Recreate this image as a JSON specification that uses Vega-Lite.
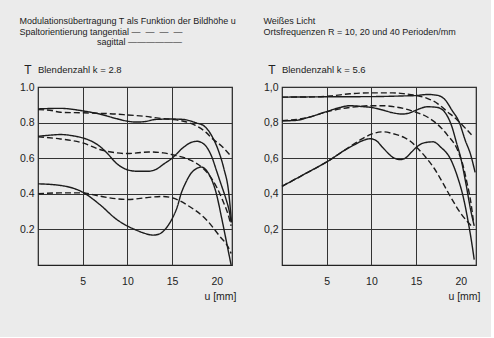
{
  "$schema": "https://vega.github.io/schema/vega-lite/v6.json",
  "background": "#ebebeb",
  "padding": {"left": 18, "top": 16, "right": 10, "bottom": 34},
  "datasets": {
    "mtf": [
      {"k": "2.8", "R": 10, "o": "sagittal", "u": 0, "T": 0.877},
      {"k": "2.8", "R": 10, "o": "sagittal", "u": 2.5, "T": 0.88},
      {"k": "2.8", "R": 10, "o": "sagittal", "u": 5, "T": 0.866},
      {"k": "2.8", "R": 10, "o": "sagittal", "u": 6.9, "T": 0.848},
      {"k": "2.8", "R": 10, "o": "sagittal", "u": 8.8, "T": 0.822},
      {"k": "2.8", "R": 10, "o": "sagittal", "u": 10, "T": 0.808},
      {"k": "2.8", "R": 10, "o": "sagittal", "u": 11, "T": 0.803},
      {"k": "2.8", "R": 10, "o": "sagittal", "u": 12, "T": 0.806},
      {"k": "2.8", "R": 10, "o": "sagittal", "u": 13.2, "T": 0.818},
      {"k": "2.8", "R": 10, "o": "sagittal", "u": 15, "T": 0.82},
      {"k": "2.8", "R": 10, "o": "sagittal", "u": 16.2, "T": 0.818},
      {"k": "2.8", "R": 10, "o": "sagittal", "u": 17.6, "T": 0.8},
      {"k": "2.8", "R": 10, "o": "sagittal", "u": 18.6, "T": 0.78},
      {"k": "2.8", "R": 10, "o": "sagittal", "u": 19.5, "T": 0.72},
      {"k": "2.8", "R": 10, "o": "sagittal", "u": 20.2, "T": 0.64},
      {"k": "2.8", "R": 10, "o": "sagittal", "u": 20.8, "T": 0.54},
      {"k": "2.8", "R": 10, "o": "sagittal", "u": 21.3, "T": 0.42},
      {"k": "2.8", "R": 10, "o": "sagittal", "u": 21.65, "T": 0.24},

      {"k": "2.8", "R": 10, "o": "tangential", "u": 0, "T": 0.873},
      {"k": "2.8", "R": 10, "o": "tangential", "u": 1.5, "T": 0.868},
      {"k": "2.8", "R": 10, "o": "tangential", "u": 2.5, "T": 0.858},
      {"k": "2.8", "R": 10, "o": "tangential", "u": 5, "T": 0.855},
      {"k": "2.8", "R": 10, "o": "tangential", "u": 7, "T": 0.852},
      {"k": "2.8", "R": 10, "o": "tangential", "u": 8.8, "T": 0.848},
      {"k": "2.8", "R": 10, "o": "tangential", "u": 10, "T": 0.843},
      {"k": "2.8", "R": 10, "o": "tangential", "u": 12, "T": 0.835},
      {"k": "2.8", "R": 10, "o": "tangential", "u": 13.5, "T": 0.825},
      {"k": "2.8", "R": 10, "o": "tangential", "u": 15, "T": 0.818},
      {"k": "2.8", "R": 10, "o": "tangential", "u": 16.5, "T": 0.805},
      {"k": "2.8", "R": 10, "o": "tangential", "u": 17.6, "T": 0.785},
      {"k": "2.8", "R": 10, "o": "tangential", "u": 18.8, "T": 0.745},
      {"k": "2.8", "R": 10, "o": "tangential", "u": 19.5, "T": 0.71},
      {"k": "2.8", "R": 10, "o": "tangential", "u": 20.5, "T": 0.67},
      {"k": "2.8", "R": 10, "o": "tangential", "u": 21.6, "T": 0.61},

      {"k": "2.8", "R": 20, "o": "sagittal", "u": 0, "T": 0.723},
      {"k": "2.8", "R": 20, "o": "sagittal", "u": 1.5, "T": 0.73},
      {"k": "2.8", "R": 20, "o": "sagittal", "u": 2.5, "T": 0.733},
      {"k": "2.8", "R": 20, "o": "sagittal", "u": 4, "T": 0.725},
      {"k": "2.8", "R": 20, "o": "sagittal", "u": 5, "T": 0.714},
      {"k": "2.8", "R": 20, "o": "sagittal", "u": 6.2, "T": 0.69},
      {"k": "2.8", "R": 20, "o": "sagittal", "u": 6.9, "T": 0.667},
      {"k": "2.8", "R": 20, "o": "sagittal", "u": 7.7, "T": 0.63},
      {"k": "2.8", "R": 20, "o": "sagittal", "u": 8.8, "T": 0.57},
      {"k": "2.8", "R": 20, "o": "sagittal", "u": 10, "T": 0.535},
      {"k": "2.8", "R": 20, "o": "sagittal", "u": 11, "T": 0.527},
      {"k": "2.8", "R": 20, "o": "sagittal", "u": 12.4, "T": 0.527},
      {"k": "2.8", "R": 20, "o": "sagittal", "u": 13.3, "T": 0.54},
      {"k": "2.8", "R": 20, "o": "sagittal", "u": 14, "T": 0.565},
      {"k": "2.8", "R": 20, "o": "sagittal", "u": 15, "T": 0.6},
      {"k": "2.8", "R": 20, "o": "sagittal", "u": 16.2, "T": 0.658},
      {"k": "2.8", "R": 20, "o": "sagittal", "u": 17.2, "T": 0.69},
      {"k": "2.8", "R": 20, "o": "sagittal", "u": 17.8, "T": 0.695},
      {"k": "2.8", "R": 20, "o": "sagittal", "u": 18.4, "T": 0.685},
      {"k": "2.8", "R": 20, "o": "sagittal", "u": 18.8, "T": 0.667},
      {"k": "2.8", "R": 20, "o": "sagittal", "u": 19.5, "T": 0.6},
      {"k": "2.8", "R": 20, "o": "sagittal", "u": 19.9, "T": 0.54},
      {"k": "2.8", "R": 20, "o": "sagittal", "u": 20.5, "T": 0.45},
      {"k": "2.8", "R": 20, "o": "sagittal", "u": 21, "T": 0.375},
      {"k": "2.8", "R": 20, "o": "sagittal", "u": 21.4, "T": 0.3},
      {"k": "2.8", "R": 20, "o": "sagittal", "u": 21.6, "T": 0.24},

      {"k": "2.8", "R": 20, "o": "tangential", "u": 0, "T": 0.72},
      {"k": "2.8", "R": 20, "o": "tangential", "u": 2.5, "T": 0.708},
      {"k": "2.8", "R": 20, "o": "tangential", "u": 5, "T": 0.686},
      {"k": "2.8", "R": 20, "o": "tangential", "u": 6.9, "T": 0.649},
      {"k": "2.8", "R": 20, "o": "tangential", "u": 8.8, "T": 0.63},
      {"k": "2.8", "R": 20, "o": "tangential", "u": 10, "T": 0.626},
      {"k": "2.8", "R": 20, "o": "tangential", "u": 12.4, "T": 0.635},
      {"k": "2.8", "R": 20, "o": "tangential", "u": 14, "T": 0.63},
      {"k": "2.8", "R": 20, "o": "tangential", "u": 15, "T": 0.62},
      {"k": "2.8", "R": 20, "o": "tangential", "u": 16.9, "T": 0.592},
      {"k": "2.8", "R": 20, "o": "tangential", "u": 18.4, "T": 0.546},
      {"k": "2.8", "R": 20, "o": "tangential", "u": 19.5, "T": 0.48},
      {"k": "2.8", "R": 20, "o": "tangential", "u": 20.6, "T": 0.37},
      {"k": "2.8", "R": 20, "o": "tangential", "u": 21.4, "T": 0.26},
      {"k": "2.8", "R": 20, "o": "tangential", "u": 21.6, "T": 0.22},

      {"k": "2.8", "R": 40, "o": "sagittal", "u": 0, "T": 0.456},
      {"k": "2.8", "R": 40, "o": "sagittal", "u": 2.5, "T": 0.447},
      {"k": "2.8", "R": 40, "o": "sagittal", "u": 5, "T": 0.409},
      {"k": "2.8", "R": 40, "o": "sagittal", "u": 6.9, "T": 0.34},
      {"k": "2.8", "R": 40, "o": "sagittal", "u": 8.8, "T": 0.256},
      {"k": "2.8", "R": 40, "o": "sagittal", "u": 10, "T": 0.219},
      {"k": "2.8", "R": 40, "o": "sagittal", "u": 10.9, "T": 0.198},
      {"k": "2.8", "R": 40, "o": "sagittal", "u": 11.8, "T": 0.18},
      {"k": "2.8", "R": 40, "o": "sagittal", "u": 12.9, "T": 0.168},
      {"k": "2.8", "R": 40, "o": "sagittal", "u": 13.6, "T": 0.175},
      {"k": "2.8", "R": 40, "o": "sagittal", "u": 14.3, "T": 0.205},
      {"k": "2.8", "R": 40, "o": "sagittal", "u": 15, "T": 0.26},
      {"k": "2.8", "R": 40, "o": "sagittal", "u": 15.6, "T": 0.33},
      {"k": "2.8", "R": 40, "o": "sagittal", "u": 16, "T": 0.4},
      {"k": "2.8", "R": 40, "o": "sagittal", "u": 16.5, "T": 0.46},
      {"k": "2.8", "R": 40, "o": "sagittal", "u": 17.2, "T": 0.52},
      {"k": "2.8", "R": 40, "o": "sagittal", "u": 18.3, "T": 0.55},
      {"k": "2.8", "R": 40, "o": "sagittal", "u": 19, "T": 0.52},
      {"k": "2.8", "R": 40, "o": "sagittal", "u": 19.9, "T": 0.41},
      {"k": "2.8", "R": 40, "o": "sagittal", "u": 20.6, "T": 0.25},
      {"k": "2.8", "R": 40, "o": "sagittal", "u": 21.2, "T": 0.1},
      {"k": "2.8", "R": 40, "o": "sagittal", "u": 21.6, "T": 0.0},

      {"k": "2.8", "R": 40, "o": "tangential", "u": 0, "T": 0.4},
      {"k": "2.8", "R": 40, "o": "tangential", "u": 2.5, "T": 0.405},
      {"k": "2.8", "R": 40, "o": "tangential", "u": 5, "T": 0.405},
      {"k": "2.8", "R": 40, "o": "tangential", "u": 6.9, "T": 0.387},
      {"k": "2.8", "R": 40, "o": "tangential", "u": 8.8, "T": 0.372},
      {"k": "2.8", "R": 40, "o": "tangential", "u": 10, "T": 0.368},
      {"k": "2.8", "R": 40, "o": "tangential", "u": 12.4, "T": 0.38},
      {"k": "2.8", "R": 40, "o": "tangential", "u": 14, "T": 0.385},
      {"k": "2.8", "R": 40, "o": "tangential", "u": 15, "T": 0.378},
      {"k": "2.8", "R": 40, "o": "tangential", "u": 16.9, "T": 0.33},
      {"k": "2.8", "R": 40, "o": "tangential", "u": 18.8, "T": 0.256},
      {"k": "2.8", "R": 40, "o": "tangential", "u": 20.3, "T": 0.163},
      {"k": "2.8", "R": 40, "o": "tangential", "u": 21.4, "T": 0.088},
      {"k": "2.8", "R": 40, "o": "tangential", "u": 21.6, "T": 0.065},

      {"k": "5.6", "R": 10, "o": "sagittal", "u": 0, "T": 0.943},
      {"k": "5.6", "R": 10, "o": "sagittal", "u": 5, "T": 0.945},
      {"k": "5.6", "R": 10, "o": "sagittal", "u": 10, "T": 0.946},
      {"k": "5.6", "R": 10, "o": "sagittal", "u": 13.7, "T": 0.95},
      {"k": "5.6", "R": 10, "o": "sagittal", "u": 15, "T": 0.952},
      {"k": "5.6", "R": 10, "o": "sagittal", "u": 16.3, "T": 0.958},
      {"k": "5.6", "R": 10, "o": "sagittal", "u": 17.4, "T": 0.953},
      {"k": "5.6", "R": 10, "o": "sagittal", "u": 18.3, "T": 0.925},
      {"k": "5.6", "R": 10, "o": "sagittal", "u": 19, "T": 0.87},
      {"k": "5.6", "R": 10, "o": "sagittal", "u": 19.8, "T": 0.805},
      {"k": "5.6", "R": 10, "o": "sagittal", "u": 20.5, "T": 0.7},
      {"k": "5.6", "R": 10, "o": "sagittal", "u": 21.1, "T": 0.62},
      {"k": "5.6", "R": 10, "o": "sagittal", "u": 21.6, "T": 0.52},

      {"k": "5.6", "R": 10, "o": "tangential", "u": 0, "T": 0.943},
      {"k": "5.6", "R": 10, "o": "tangential", "u": 4, "T": 0.945},
      {"k": "5.6", "R": 10, "o": "tangential", "u": 5.5, "T": 0.95},
      {"k": "5.6", "R": 10, "o": "tangential", "u": 7.6, "T": 0.962},
      {"k": "5.6", "R": 10, "o": "tangential", "u": 10, "T": 0.967},
      {"k": "5.6", "R": 10, "o": "tangential", "u": 12.4, "T": 0.967},
      {"k": "5.6", "R": 10, "o": "tangential", "u": 13.7, "T": 0.962},
      {"k": "5.6", "R": 10, "o": "tangential", "u": 15, "T": 0.953},
      {"k": "5.6", "R": 10, "o": "tangential", "u": 16.3, "T": 0.935},
      {"k": "5.6", "R": 10, "o": "tangential", "u": 17.4, "T": 0.907},
      {"k": "5.6", "R": 10, "o": "tangential", "u": 18.5, "T": 0.861},
      {"k": "5.6", "R": 10, "o": "tangential", "u": 19.6, "T": 0.815},
      {"k": "5.6", "R": 10, "o": "tangential", "u": 20.5, "T": 0.769},
      {"k": "5.6", "R": 10, "o": "tangential", "u": 21.2, "T": 0.732},

      {"k": "5.6", "R": 20, "o": "sagittal", "u": 0, "T": 0.81},
      {"k": "5.6", "R": 20, "o": "sagittal", "u": 1.5, "T": 0.812},
      {"k": "5.6", "R": 20, "o": "sagittal", "u": 3, "T": 0.83},
      {"k": "5.6", "R": 20, "o": "sagittal", "u": 5, "T": 0.862},
      {"k": "5.6", "R": 20, "o": "sagittal", "u": 6.5, "T": 0.885},
      {"k": "5.6", "R": 20, "o": "sagittal", "u": 7.6, "T": 0.895},
      {"k": "5.6", "R": 20, "o": "sagittal", "u": 9, "T": 0.89},
      {"k": "5.6", "R": 20, "o": "sagittal", "u": 10, "T": 0.885},
      {"k": "5.6", "R": 20, "o": "sagittal", "u": 11.3, "T": 0.87},
      {"k": "5.6", "R": 20, "o": "sagittal", "u": 12.4, "T": 0.855},
      {"k": "5.6", "R": 20, "o": "sagittal", "u": 13.5, "T": 0.848},
      {"k": "5.6", "R": 20, "o": "sagittal", "u": 14.3, "T": 0.855},
      {"k": "5.6", "R": 20, "o": "sagittal", "u": 15, "T": 0.87},
      {"k": "5.6", "R": 20, "o": "sagittal", "u": 16.3, "T": 0.889},
      {"k": "5.6", "R": 20, "o": "sagittal", "u": 17.4, "T": 0.885},
      {"k": "5.6", "R": 20, "o": "sagittal", "u": 18.3, "T": 0.852},
      {"k": "5.6", "R": 20, "o": "sagittal", "u": 19, "T": 0.778},
      {"k": "5.6", "R": 20, "o": "sagittal", "u": 19.5, "T": 0.69},
      {"k": "5.6", "R": 20, "o": "sagittal", "u": 20, "T": 0.6},
      {"k": "5.6", "R": 20, "o": "sagittal", "u": 20.6, "T": 0.45},
      {"k": "5.6", "R": 20, "o": "sagittal", "u": 21.1, "T": 0.31},
      {"k": "5.6", "R": 20, "o": "sagittal", "u": 21.5, "T": 0.22},

      {"k": "5.6", "R": 20, "o": "tangential", "u": 0, "T": 0.81},
      {"k": "5.6", "R": 20, "o": "tangential", "u": 3, "T": 0.83},
      {"k": "5.6", "R": 20, "o": "tangential", "u": 5, "T": 0.86},
      {"k": "5.6", "R": 20, "o": "tangential", "u": 6.5, "T": 0.877},
      {"k": "5.6", "R": 20, "o": "tangential", "u": 7.6, "T": 0.885},
      {"k": "5.6", "R": 20, "o": "tangential", "u": 10, "T": 0.895},
      {"k": "5.6", "R": 20, "o": "tangential", "u": 11.3, "T": 0.895},
      {"k": "5.6", "R": 20, "o": "tangential", "u": 12.4, "T": 0.89},
      {"k": "5.6", "R": 20, "o": "tangential", "u": 13.7, "T": 0.878},
      {"k": "5.6", "R": 20, "o": "tangential", "u": 15, "T": 0.858},
      {"k": "5.6", "R": 20, "o": "tangential", "u": 16.3, "T": 0.83},
      {"k": "5.6", "R": 20, "o": "tangential", "u": 17.4, "T": 0.79},
      {"k": "5.6", "R": 20, "o": "tangential", "u": 18.5, "T": 0.73},
      {"k": "5.6", "R": 20, "o": "tangential", "u": 19.6, "T": 0.65},
      {"k": "5.6", "R": 20, "o": "tangential", "u": 20.3, "T": 0.55},
      {"k": "5.6", "R": 20, "o": "tangential", "u": 20.7, "T": 0.46},
      {"k": "5.6", "R": 20, "o": "tangential", "u": 21.1, "T": 0.36},
      {"k": "5.6", "R": 20, "o": "tangential", "u": 21.4, "T": 0.25},

      {"k": "5.6", "R": 40, "o": "sagittal", "u": 0, "T": 0.442},
      {"k": "5.6", "R": 40, "o": "sagittal", "u": 2.5, "T": 0.51},
      {"k": "5.6", "R": 40, "o": "sagittal", "u": 5, "T": 0.579},
      {"k": "5.6", "R": 40, "o": "sagittal", "u": 7.6, "T": 0.662},
      {"k": "5.6", "R": 40, "o": "sagittal", "u": 9.9, "T": 0.709},
      {"k": "5.6", "R": 40, "o": "sagittal", "u": 10.5, "T": 0.7},
      {"k": "5.6", "R": 40, "o": "sagittal", "u": 11.3, "T": 0.658},
      {"k": "5.6", "R": 40, "o": "sagittal", "u": 12.4, "T": 0.605},
      {"k": "5.6", "R": 40, "o": "sagittal", "u": 13.2, "T": 0.592},
      {"k": "5.6", "R": 40, "o": "sagittal", "u": 13.7, "T": 0.598},
      {"k": "5.6", "R": 40, "o": "sagittal", "u": 14.5, "T": 0.635},
      {"k": "5.6", "R": 40, "o": "sagittal", "u": 15, "T": 0.66},
      {"k": "5.6", "R": 40, "o": "sagittal", "u": 15.8, "T": 0.685},
      {"k": "5.6", "R": 40, "o": "sagittal", "u": 16.9, "T": 0.692},
      {"k": "5.6", "R": 40, "o": "sagittal", "u": 17.8, "T": 0.66},
      {"k": "5.6", "R": 40, "o": "sagittal", "u": 18.8, "T": 0.6},
      {"k": "5.6", "R": 40, "o": "sagittal", "u": 19.6, "T": 0.5},
      {"k": "5.6", "R": 40, "o": "sagittal", "u": 20.3, "T": 0.376},
      {"k": "5.6", "R": 40, "o": "sagittal", "u": 20.8, "T": 0.25},
      {"k": "5.6", "R": 40, "o": "sagittal", "u": 21.2, "T": 0.132},
      {"k": "5.6", "R": 40, "o": "sagittal", "u": 21.5, "T": 0.03},

      {"k": "5.6", "R": 40, "o": "tangential", "u": 0, "T": 0.442},
      {"k": "5.6", "R": 40, "o": "tangential", "u": 2.5, "T": 0.51},
      {"k": "5.6", "R": 40, "o": "tangential", "u": 5, "T": 0.579},
      {"k": "5.6", "R": 40, "o": "tangential", "u": 7.6, "T": 0.665},
      {"k": "5.6", "R": 40, "o": "tangential", "u": 9, "T": 0.71},
      {"k": "5.6", "R": 40, "o": "tangential", "u": 10, "T": 0.735},
      {"k": "5.6", "R": 40, "o": "tangential", "u": 11.3, "T": 0.748},
      {"k": "5.6", "R": 40, "o": "tangential", "u": 12.4, "T": 0.738},
      {"k": "5.6", "R": 40, "o": "tangential", "u": 13.7, "T": 0.715},
      {"k": "5.6", "R": 40, "o": "tangential", "u": 14.5, "T": 0.69},
      {"k": "5.6", "R": 40, "o": "tangential", "u": 15, "T": 0.665},
      {"k": "5.6", "R": 40, "o": "tangential", "u": 16, "T": 0.61},
      {"k": "5.6", "R": 40, "o": "tangential", "u": 17, "T": 0.545},
      {"k": "5.6", "R": 40, "o": "tangential", "u": 18, "T": 0.46},
      {"k": "5.6", "R": 40, "o": "tangential", "u": 19, "T": 0.37},
      {"k": "5.6", "R": 40, "o": "tangential", "u": 20, "T": 0.29},
      {"k": "5.6", "R": 40, "o": "tangential", "u": 20.8, "T": 0.24},
      {"k": "5.6", "R": 40, "o": "tangential", "u": 21.4, "T": 0.21}
    ]
  },
  "data": {"name": "mtf"},
  "spacing": 25,
  "hconcat": [
    {
      "width": 194,
      "height": 178,
      "title": {
        "text": ["Modulationsübertragung T als Funktion der Bildhöhe u", "Spaltorientierung tangential —\u00a0\u00a0—\u00a0\u00a0—\u00a0\u00a0—", "\u200b\u00a0\u00a0\u00a0\u00a0\u00a0\u00a0\u00a0\u00a0\u00a0\u00a0\u00a0\u00a0\u00a0\u00a0\u00a0\u00a0\u00a0\u00a0\u00a0\u00a0\u00a0\u00a0\u00a0\u00a0\u00a0\u00a0\u00a0\u00a0\u00a0\u00a0\u00a0sagittal ——————"],
        "subtitle": "\u200b\u00a0\u00a0\u00a0\u00a0\u00a0\u00a0\u00a0Blendenzahl k = 2.8"
      },
      "transform": [{"filter": "datum.k == '2.8'"}],
      "mark": {"type": "line", "interpolate": "monotone", "color": "#1c1c1c", "strokeWidth": 1.4},
      "encoding": {
        "x": {"field": "u", "type": "quantitative", "scale": {"domain": [0, 21.7], "nice": false, "zero": false},
          "axis": {"values": [5, 10, 15, 20], "title": "u [mm]", "gridOpacity": {"condition": {"test": "datum.value == 20", "value": 0}, "value": 1}}},
        "y": {"field": "T", "type": "quantitative", "scale": {"domain": [0, 1], "nice": false},
          "axis": {"values": [0.2, 0.4, 0.6, 0.8, 1.0], "format": ".1f", "title": "T"}},
        "strokeDash": {"field": "o", "type": "nominal", "scale": {"domain": ["sagittal", "tangential"], "range": [[1, 0], [6, 3]]}, "legend": null},
        "detail": {"field": "R", "type": "nominal"}
      }
    },
    {
      "width": 194,
      "height": 178,
      "title": {
        "text": ["Weißes Licht", "Ortsfrequenzen R = 10, 20 und 40 Perioden/mm"],
        "subtitle": "\u200b\u00a0\u00a0\u00a0\u00a0\u00a0\u00a0\u00a0Blendenzahl k = 5.6",
        "subtitlePadding": 28.5
      },
      "transform": [{"filter": "datum.k == '5.6'"}],
      "mark": {"type": "line", "interpolate": "monotone", "color": "#1c1c1c", "strokeWidth": 1.4},
      "encoding": {
        "x": {"field": "u", "type": "quantitative", "scale": {"domain": [0, 21.7], "nice": false, "zero": false},
          "axis": {"values": [5, 10, 15, 20], "title": "u [mm]", "gridOpacity": {"condition": {"test": "datum.value == 20", "value": 0}, "value": 1}}},
        "y": {"field": "T", "type": "quantitative", "scale": {"domain": [0, 1], "nice": false},
          "axis": {"values": [0.2, 0.4, 0.6, 0.8, 1.0], "labelExpr": "replace(format(datum.value, '.1f'), '.', ',')", "title": "T"}},
        "strokeDash": {"field": "o", "type": "nominal", "scale": {"domain": ["sagittal", "tangential"], "range": [[1, 0], [6, 3]]}, "legend": null},
        "detail": {"field": "R", "type": "nominal"}
      }
    }
  ],
  "resolve": {"scale": {"strokeDash": "shared"}},
  "config": {
    "font": "Liberation Sans",
    "view": {"stroke": "#222", "strokeWidth": 1.2},
    "axis": {
      "domain": false,
      "ticks": false,
      "tickSize": 0,
      "grid": true,
      "gridColor": "#333",
      "gridWidth": 1,
      "labelFont": "Liberation Sans",
      "labelFontSize": 10.5,
      "labelColor": "#222",
      "titleFont": "Liberation Sans",
      "titleFontWeight": "normal",
      "titleColor": "#222"
    },
    "axisX": {
      "labelPadding": 11,
      "labelFlush": false,
      "titleFontSize": 10.5,
      "titleAlign": "right",
      "titleAnchor": "start",
      "titleX": 198,
      "titleY": 34,
      "titleBaseline": "alphabetic"
    },
    "axisY": {
      "labelPadding": 4,
      "labelBaseline": "middle",
      "labelFlush": false,
      "titleFontSize": 12,
      "titleAngle": 0,
      "titleAlign": "center",
      "titleBaseline": "alphabetic",
      "titleX": -10.5,
      "titleY": -13.5
    },
    "title": {
      "anchor": "start",
      "frame": "bounds",
      "font": "Liberation Sans",
      "fontSize": 9,
      "fontWeight": "normal",
      "color": "#222",
      "lineHeight": 10.5,
      "subtitleFont": "Liberation Sans",
      "subtitleFontSize": 9.5,
      "subtitleColor": "#222",
      "subtitlePadding": 18,
      "offset": -11,
      "dx": 0
    }
  }
}
